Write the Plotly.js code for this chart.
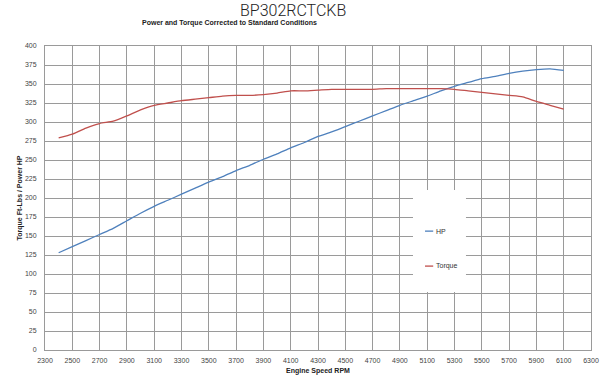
<!DOCTYPE html>
<html>
<head>
<meta charset="utf-8">
<script src="https://cdn.plot.ly/plotly-3.0.1.min.js"></script>
<style>html,body{margin:0;padding:0;background:#fff;}#chart{width:604px;height:377px;}</style>
</head>
<body>
<div id="chart"></div>
<script>
const rpm = [2400,2500,2600,2700,2800,2900,3000,3100,3200,3300,3400,3500,3600,3700,3800,3900,4000,4100,4200,4300,4400,4500,4600,4700,4800,4900,5000,5100,5200,5300,5400,5500,5600,5700,5800,5900,6000,6100];
const hp = [128,136,144,152,160,170,180,189,197,205,213,221,228,236,243,251,258,266,273,281,287,294,301,308,315,322,328,334,341,347,352,357,360,364,367,369,370,368];
const torque = [279,284,292,298,301,308,316,322,325,328,330,332,334,335,335,336,338,341,341,342,343,343,343,343,344,344,344,344,344,343,341,339,337,335,333,327,322,317];
const xTicks = [2300,2500,2700,2900,3100,3300,3500,3700,3900,4100,4300,4500,4700,4900,5100,5300,5500,5700,5900,6100,6300];
const yTicks = [0,25,50,75,100,125,150,175,200,225,250,275,300,325,350,375,400];
const seriesNames = ['HP','Torque'];
const seriesColors = ['#4f81bd','#c0504d'];

const tickFont = {family:'Liberation Sans Narrow, Liberation Sans, Arial, sans-serif', size:7, color:'#444'};
const boldFont = {family:'Liberation Sans Narrow, Liberation Sans, Arial, sans-serif', size:7, color:'#222', weight:700};

const traces = [
  {x:rpm, y:hp, name:seriesNames[0], mode:'lines', line:{color:seriesColors[0], width:1.3, shape:'spline', smoothing:0.6}, hoverinfo:'x+y'},
  {x:rpm, y:torque, name:seriesNames[1], mode:'lines', line:{color:seriesColors[1], width:1.3, shape:'spline', smoothing:0.6}, hoverinfo:'x+y'}
];

const layout = {
  width:604, height:377,
  margin:{l:45, r:13, t:46, b:27},
  paper_bgcolor:'#fff', plot_bgcolor:'#fff',
  showlegend:false,
  xaxis:{range:[2300,6300], tickvals:xTicks, ticktext:xTicks.map(String), showgrid:true, gridcolor:'#9a9a9a', gridwidth:1,
         showline:true, linecolor:'#9a9a9a', mirror:true, zeroline:false, ticks:'', tickfont:tickFont, ticklabelstandoff:4,
         title:{text:'Engine Speed RPM', font:boldFont, standoff:4}},
  yaxis:{range:[0,400], tickvals:yTicks, ticktext:yTicks.map(String), showgrid:true, gridcolor:'#9a9a9a', gridwidth:1,
         showline:true, linecolor:'#9a9a9a', mirror:true, zeroline:false, ticks:'', tickfont:tickFont, ticklabelstandoff:6,
         title:{text:'Torque Ft-Lbs / Power HP', font:boldFont, standoff:1}},
  shapes:[
    {type:'rect', xref:'paper', yref:'paper', x0:0.674, x1:0.771, y0:0.191, y1:0.526, fillcolor:'#fff', line:{width:0}, layer:'above'},
    {type:'line', xref:'paper', yref:'paper', x0:0.696, x1:0.711, y0:0.391, y1:0.391, line:{color:seriesColors[0], width:1.3}},
    {type:'line', xref:'paper', yref:'paper', x0:0.696, x1:0.711, y0:0.276, y1:0.276, line:{color:seriesColors[1], width:1.3}}
  ],
  annotations:[
    {text:'BP302RCTCKB', xref:'paper', yref:'paper', x:0.455, y:1.118, xanchor:'center', yanchor:'middle', showarrow:false,
     font:{family:'Roboto, Liberation Sans, sans-serif', size:16, color:'#222', weight:300}},
    {text:'Power and Torque Corrected to Standard Conditions', xref:'paper', yref:'paper', x:0.338, y:1.076, xanchor:'center', yanchor:'middle', showarrow:false,
     font:boldFont},
    {text:seriesNames[0], xref:'paper', yref:'paper', x:0.712, y:0.391, xanchor:'left', yanchor:'middle', showarrow:false, font:{family:tickFont.family, size:7, color:'#333'}},
    {text:seriesNames[1], xref:'paper', yref:'paper', x:0.712, y:0.276, xanchor:'left', yanchor:'middle', showarrow:false, font:{family:tickFont.family, size:7, color:'#333'}}
  ]
};

Plotly.newPlot('chart', traces, layout, {displayModeBar:false, staticPlot:true});
</script>
</body>
</html>
